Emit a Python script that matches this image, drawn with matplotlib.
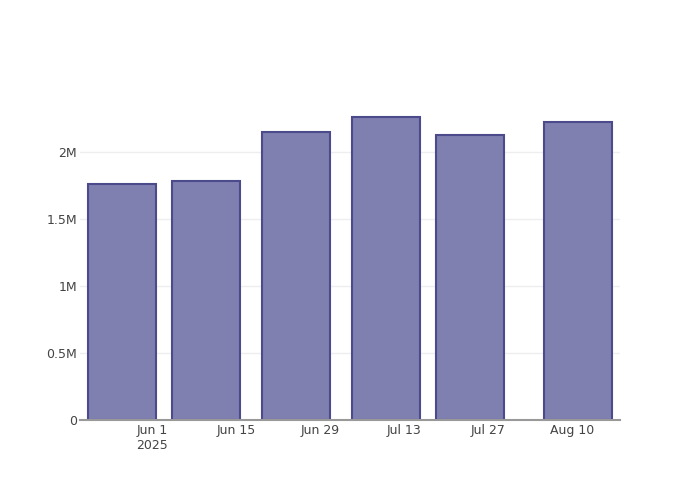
import matplotlib.pyplot as plt
from datetime import datetime

dates = ["2025-05-27", "2025-06-10", "2025-06-25", "2025-07-10", "2025-07-24", "2025-08-11"]
values = [1.758e6, 1.784e6, 2.148e6, 2.261e6, 2.127e6, 2.224e6]

tick_dates = ["2025-06-01", "2025-06-15", "2025-06-29", "2025-07-13", "2025-07-27", "2025-08-10"]
tick_labels = ["Jun 1\n2025", "Jun 15", "Jun 29", "Jul 13", "Jul 27", "Aug 10"]
y_ticks = [0, 0.5e6, 1e6, 1.5e6, 2e6]
y_labels = ["0", "0.5M", "1M", "1.5M", "2M"]

x = [datetime.strptime(d, "%Y-%m-%d") for d in dates]

fig = plt.figure(figsize=(7, 5), dpi=100)
ax = fig.add_axes([80 / 700, 80 / 500, 540 / 700, 320 / 500])

ax.bar(x, values, width=11.2, color="#7f7fb0", edgecolor="#4b4b8c", linewidth=1.5, zorder=3)

ax.set_xlim(datetime(2025, 5, 20), datetime(2025, 8, 18))
ax.set_ylim(0, 2.385e6)

ax.set_xticks([datetime.strptime(d, "%Y-%m-%d") for d in tick_dates])
ax.set_xticklabels(tick_labels)
ax.set_yticks(y_ticks)
ax.set_yticklabels(y_labels)

ax.grid(axis="y", color="#eeeeee", linewidth=1, zorder=0)
for s in ["top", "right", "left"]:
    ax.spines[s].set_visible(False)
ax.spines["bottom"].set_color("#999999")
ax.spines["bottom"].set_linewidth(1.5)
ax.spines["bottom"].set_zorder(4)

ax.tick_params(axis="x", length=0, pad=3, labelsize=9, labelcolor="#444444")
ax.tick_params(axis="y", length=0, pad=2, labelsize=9, labelcolor="#444444")

fig.savefig("out.png", dpi=100)
